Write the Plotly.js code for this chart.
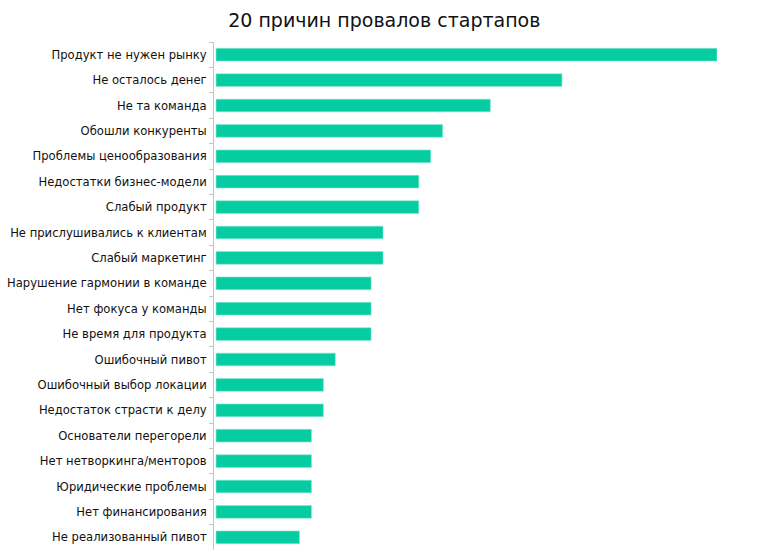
<!DOCTYPE html>
<html>
<head>
<meta charset="utf-8">
<script src="https://cdn.plot.ly/plotly-3.0.1.min.js"></script>
<style>
  html, body { margin: 0; padding: 0; background: #fff; }
  #chart { width: 761px; height: 559px; }
</style>
</head>
<body>
<div id="chart"></div>
<script>
// reasons, top to bottom
const reasons = [
    'Продукт не нужен рынку',
    'Не осталось денег',
    'Не та команда',
    'Обошли конкуренты',
    'Проблемы ценообразования',
    'Недостатки бизнес-модели',
    'Слабый продукт',
    'Не прислушивались к клиентам',
    'Слабый маркетинг',
    'Нарушение гармонии в команде',
    'Нет фокуса у команды',
    'Не время для продукта',
    'Ошибочный пивот',
    'Ошибочный выбор локации',
    'Недостаток страсти к делу',
    'Основатели перегорели',
    'Нет нетворкинга/менторов',
    'Юридические проблемы',
    'Нет финансирования',
    'Не реализованный пивот'
];

// share of startups, %
const shares = [42, 29, 23, 19, 18, 17, 17, 14, 14, 13, 13, 13, 10, 9, 9, 8, 8, 8, 8, 7];

const trace = {
    type: 'bar',
    orientation: 'h',
    x: shares,
    y: reasons,
    marker: { color: '#05cda1', line: { color: '#8ce8d2', width: 0.6 } },
    hoverinfo: 'x+y'
};

const layout = {
    width: 761,
    height: 559,
    paper_bgcolor: '#fff',
    plot_bgcolor: '#fff',
    font: { family: 'DejaVu Sans, Verdana, sans-serif', size: 12, color: '#111' },
    title: {
        text: '20 причин провалов стартапов',
        font: { size: 19, color: '#111' },
        x: 0.505, xanchor: 'center',
        y: 0.963, yanchor: 'middle'
    },
    margin: { l: 214, r: 44, t: 42, b: 9 },
    bargap: 0.5,
    showlegend: false,
    xaxis: {
        range: [-0.17, 42],
        visible: false,
        showgrid: false,
        zeroline: false
    },
    yaxis: {
        type: 'category',
        autorange: 'reversed',
        showline: true,
        linecolor: '#c4c4c4',
        linewidth: 1,
        ticks: 'outside',
        tickson: 'boundaries',
        ticklen: 4,
        tickcolor: '#c4c4c4',
        ticklabelstandoff: 4,
        showgrid: false,
        zeroline: false,
        tickfont: { size: 11.6, color: '#111' }
    }
};

Plotly.newPlot('chart', [trace], layout, { displayModeBar: false, responsive: false });
</script>
</body>
</html>
